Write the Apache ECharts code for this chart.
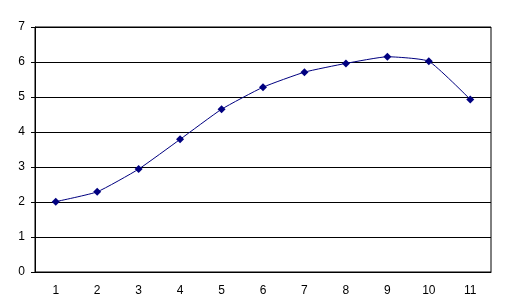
<!DOCTYPE html>
<html>
<head>
<meta charset="utf-8">
<script src="https://cdn.jsdelivr.net/npm/echarts@6/dist/echarts.min.js"></script>
<style>html,body{margin:0;padding:0;background:#fff}#c{width:507px;height:308px}</style>
</head>
<body>
<div id="c"></div>
<script>
const categories = ['1','2','3','4','5','6','7','8','9','10','11'];
const values = [2.01, 2.29, 2.94, 3.79, 4.65, 5.28, 5.71, 5.96, 6.15, 6.02, 4.93];

const chart = echarts.init(document.getElementById('c'), null, {renderer: 'canvas'});
chart.setOption({
  backgroundColor: '#fff',
  animation: false,
  grid: {left: 35, right: 16, top: 27, bottom: 36, show: true, borderColor: '#000', borderWidth: 1},
  xAxis: {
    type: 'category',
    data: categories,
    boundaryGap: true,
    axisLine: {lineStyle: {color: '#000', width: 1}},
    axisTick: {show: false},
    axisLabel: {color: '#000', fontFamily: 'Liberation Sans, Arial', fontSize: 12, margin: 13}
  },
  yAxis: {
    type: 'value',
    min: 0, max: 7, interval: 1,
    axisLine: {show: true, lineStyle: {color: '#000', width: 1}},
    axisTick: {show: true, length: 4, lineStyle: {color: '#000'}},
    axisLabel: {color: '#000', fontFamily: 'Liberation Sans, Arial', fontSize: 12, margin: 10},
    splitLine: {lineStyle: {color: '#000', width: 1}}
  },
  series: [{
    type: 'line',
    data: values,
    smooth: 0.15,
    symbol: 'diamond',
    symbolSize: 8,
    lineStyle: {color: '#000080', width: 1},
    itemStyle: {color: '#000080'}
  }]
});
</script>
</body>
</html>
